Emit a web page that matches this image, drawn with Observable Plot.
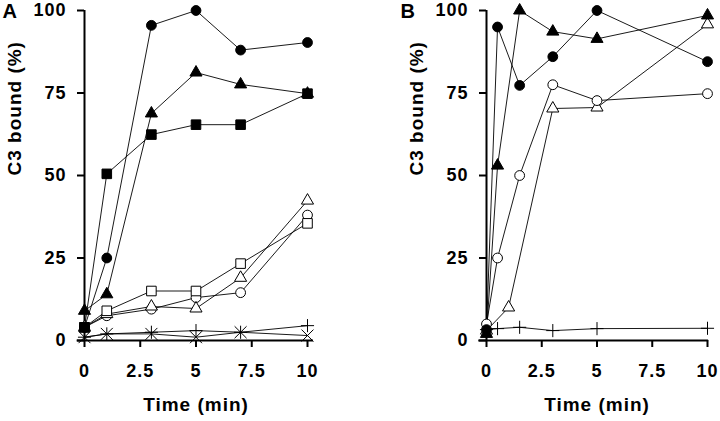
<!DOCTYPE html>
<html>
<head>
<meta charset="utf-8">
<script src="https://cdn.jsdelivr.net/npm/d3@7"></script>
<script src="https://cdn.jsdelivr.net/npm/@observablehq/plot@0.6"></script>
<style>
  html, body { margin: 0; padding: 0; background: white; }
  #wrap { display: flex; width: 720px; height: 421px; background: white; }
  #wrap svg { display: block; }
  #wrap g[aria-label^="x-axis"] line,
  #wrap g[aria-label^="y-axis"] line,
  #wrap g[aria-label="x-axis tick"] path,
  #wrap g[aria-label="y-axis tick"] path { stroke-width: 2px; stroke: black; }
  #wrap text { fill: black; }
</style>
</head>
<body>
<div id="wrap"></div>
<script>
// ---------- data ----------
const yTicks = [0, 25, 50, 75, 100];
const xTicks = [0, 2.5, 5, 7.5, 10];
const yLabel = "C3 bound (%)";
const xLabel = "Time (min)";
const panelLabels = ["A", "B"];

// Panel A
const timesA = [0, 1, 3, 5, 7, 10];
const aFilledCircle   = [4, 25, 95.5, 100, 88, 90.3];
const aFilledTriangle = [9, 14, 68.8, 81.2, 77.6, 74.8];
const aFilledSquare   = [4, 50.5, 62.4, 65.4, 65.4, 74.8];
const aOpenSquare     = [4, 9, 15, 15, 23.3, 35.5];
const aOpenTriangle   = [4, 8, 10.3, 9.7, 19, 42.4];
const aOpenCircle     = [4, 7.5, 9.5, 13, 14.5, 38];
const aPlus           = [1, 2, 2.5, 3, 2.5, 4.5];
const aTimes          = [1, 2, 2, 1, 2.5, 1.5];

// Panel B
const timesB1 = [0, 0.5, 1.5, 3, 5, 10];
const timesB2 = [0, 1, 3, 5, 10];
const bFilledCircle   = [3.3, 95, 77.3, 86, 100, 84.5];
const bFilledTriangle = [2, 53, 100, 93.6, 91.4, 98.5];
const bOpenCircle     = [5, 25, 50, 77.5, 72.7, 74.8];
const bOpenTriangle   = [3, 10, 70.3, 70.6, 95.8];
const bPlus           = [3.3, 3.6, 4, 3, 3.6, 3.7];

// ---------- styling by marker kind ----------
const markerStyle = {
  filledCircle:   {symbol: "circle",   r: 4.9,  fill: "black", stroke: "black", strokeWidth: 1},
  filledTriangle: {symbol: "triangle", r: 4.5,  fill: "black", stroke: "black", strokeWidth: 1},
  filledSquare:   {symbol: "square",   r: 5.4,  fill: "black", stroke: "black", strokeWidth: 1},
  openCircle:     {symbol: "circle",   r: 4.9,  fill: "white", stroke: "black", strokeWidth: 1},
  openTriangle:   {symbol: "triangle", r: 4.5,  fill: "white", stroke: "black", strokeWidth: 1},
  openSquare:     {symbol: "square",   r: 5.4,  fill: "white", stroke: "black", strokeWidth: 1},
  plus:           {symbol: "plus",     r: 4.3,  fill: "none",  stroke: "black", strokeWidth: 1},
  times:          {symbol: "times",    r: 5.5,  fill: "none",  stroke: "black", strokeWidth: 1}
};

function rows(xs, ys) { return xs.map((x, i) => ({x, y: ys[i]})); }

const seriesA = [
  {kind: "plus", data: rows(timesA, aPlus)},
  {kind: "times", data: rows(timesA, aTimes)},
  {kind: "openCircle", data: rows(timesA, aOpenCircle)},
  {kind: "openTriangle", data: rows(timesA, aOpenTriangle)},
  {kind: "openSquare", data: rows(timesA, aOpenSquare)},
  {kind: "filledCircle", data: rows(timesA, aFilledCircle)},
  {kind: "filledTriangle", data: rows(timesA, aFilledTriangle)},
  {kind: "filledSquare", data: rows(timesA, aFilledSquare)}
];
const seriesB = [
  {kind: "plus", data: rows(timesB1, bPlus)},
  {kind: "openTriangle", data: rows(timesB2, bOpenTriangle)},
  {kind: "openCircle", data: rows(timesB1, bOpenCircle)},
  {kind: "filledTriangle", data: rows(timesB1, bFilledTriangle)},
  {kind: "filledCircle", data: rows(timesB1, bFilledCircle)}
];

const FONT = "'Liberation Sans', Arial, Helvetica, sans-serif";

function panel(series, letter, o) {
  const marks = [
    Plot.ruleY([0], {x1: () => o.axisStart, x2: () => o.axisEnd, stroke: "black", strokeWidth: 2}),
    Plot.ruleX([0], {y1: () => 0, y2: () => 100, stroke: "black", strokeWidth: 2})
  ];
  for (const s of series) {
    marks.push(Plot.line(s.data, {x: "x", y: "y", stroke: "black", strokeWidth: 0.9}));
  }
  for (const s of series) {
    const st = markerStyle[s.kind];
    marks.push(Plot.dot(s.data, {x: "x", y: "y", symbol: st.symbol, r: st.r, fill: st.fill, stroke: st.stroke, strokeWidth: st.strokeWidth}));
  }
  marks.push(
    Plot.text([yLabel], {text: d => d, frameAnchor: "left", rotate: -90, dx: -70, fontSize: 19, fontWeight: "bold", fill: "black"}),
    Plot.text([xLabel], {text: d => d, frameAnchor: "bottom", dy: 70, fontSize: 19, fontWeight: "bold", fill: "black"}),
    Plot.text([letter], {text: d => d, frameAnchor: "top-left", textAnchor: "start", lineAnchor: "top", dx: o.letterDx, dy: -7, fontSize: 20, fontWeight: "bold", fill: "black"})
  );
  return Plot.plot({
    width: 360,
    height: 421,
    marginLeft: o.marginLeft,
    marginRight: o.marginRight,
    marginTop: 10,
    marginBottom: 81,
    style: {fontFamily: FONT, fontSize: "18px", fontWeight: "bold", letterSpacing: "1px", background: "white", color: "black", overflow: "visible"},
    x: {domain: [0, 10], ticks: xTicks, tickSize: 7, tickPadding: 17, tickFormat: d => String(d), label: null},
    y: {domain: [0, 100], ticks: yTicks, tickSize: 7, tickPadding: 11, tickFormat: d => String(d), label: null},
    marks
  });
}

const wrap = document.getElementById("wrap");
wrap.appendChild(panel(seriesA, panelLabels[0], {marginLeft: 84, marginRight: 53, axisStart: -0.33, axisEnd: 10.27, letterDx: -82}));
wrap.appendChild(panel(seriesB, panelLabels[1], {marginLeft: 126, marginRight: 13, axisStart: -0.35, axisEnd: 10.05, letterDx: -86}));
</script>
</body>
</html>
